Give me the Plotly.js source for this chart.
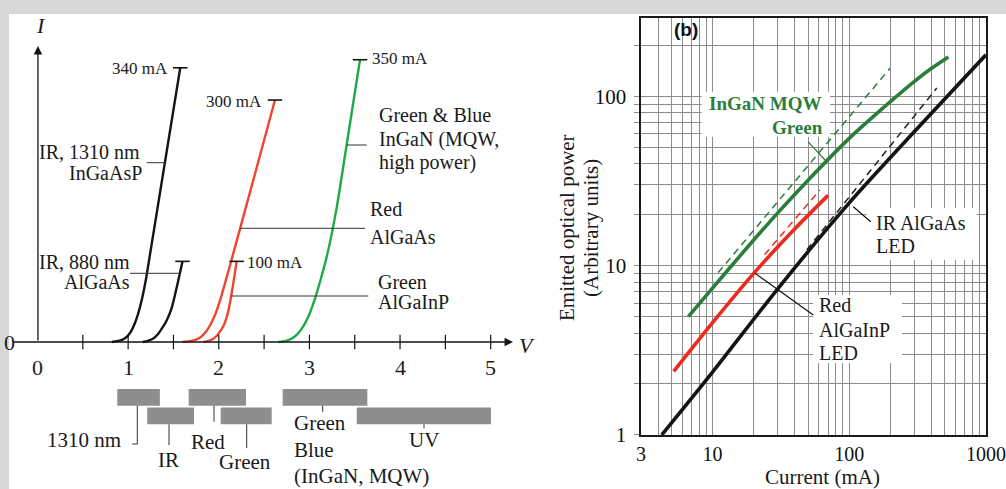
<!DOCTYPE html>
<html><head><meta charset="utf-8">
<script src="https://cdn.plot.ly/plotly-3.0.1.min.js"></script>
<style>html,body{margin:0;padding:0;background:#fff}#chart{width:1006px;height:489px}</style>
</head><body><div id="chart"></div>
<script>
// ================= DATA =================
// Panel (a): I-V characteristics (V in volts, I in mA)
const ir1310_V = [0.82,0.88,0.94,0.99,1.03,1.07,1.11,1.15,1.20,1.575];
const ir1310_I = [0,1,3,7,13,22,35,52,80,340];
const ir880_V  = [1.16,1.22,1.28,1.33,1.38,1.43,1.48,1.60];
const ir880_I  = [0,1.5,4.5,10,18,28,42,100];
const redAlGaAs_V = [1.60,1.68,1.75,1.81,1.86,1.91,1.96,2.01,2.62];
const redAlGaAs_I = [0,1,3,7,13,22,34,50,300];
const grnAlGaInP_V = [1.83,1.89,1.94,1.98,2.02,2.06,2.10,2.14,2.197];
const grnAlGaInP_I = [0,1.5,4,8,14,22,36,59,100];
const inGaN_V = [2.657,2.74,2.81,2.87,2.93,2.99,3.05,3.12,3.20,3.30,3.41,3.558];
const inGaN_I = [0,1.5,4.5,10,19,32,50,76,110,166,244,350];
const topLabels = ['340 mA','100 mA','300 mA','100 mA','350 mA'];
const voltTicks = [0.5,1,1.5,2,2.5,3,3.5,4,4.5,5];
const voltLabels = [0,1,2,3,4,5];
// bandgap ranges under the axis (V)
const bandNames = ['1310 nm','Red','Green Blue (InGaN, MQW)','IR','Green','UV'];
const bandStart = [0.88,1.668,2.705,1.211,2.021,3.522];
const bandEnd   = [1.35,2.30,3.639,1.727,2.584,5.003];
const bandRow   = [1,1,1,2,2,2];

// Panel (b): emitted optical power vs current (mA, arbitrary units)
const irSolid_I = [4.25,10,30,100,300,1000];
const irSolid_P = [1,2.35,7.3,23.5,62,176];
const irDash_I = [48.9,437];
const irDash_P = [12.4,112];
const redSolid_I = [5.2,10,20,40,70];
const redSolid_P = [2.37,4.6,9.0,16.5,26];
const redDash_I = [24,61];
const redDash_P = [11.6,28];
const grnSolid_I = [6.65,10,16,30,50,100,200,300,400,531];
const grnSolid_P = [5.0,7.37,11.5,20.5,32,56.5,93,122.6,146.5,171];
const grnDash_I = [11,199];
const grnDash_P = [9.1,146.6];
const gridX = [3,4,5,6,7,8,9,10,20,30,40,50,60,70,80,90,100,200,300,400,500,600,700,800,900,1000];
const labelX = [3,10,100,1000];
const gridY = [1,2,3,4,5,6,7,8,9,10,20,30,40,50,60,70,80,90,100,200];
const labelY = [1,10,100];

// ================= LAYOUT HELPERS =================
const W = 1006, H = 489;
const X = p => p / W;
const Y = p => 1 - p / H;
const serif = 'Liberation Serif, Times New Roman, serif';
const BLACK = '#141414', REDA = '#ee4530', GRNA = '#1faa4a';
const REDB = '#ec2a1e', GRNB = '#2b7d3a';

function ann(text, px, py, xanchor, size, extra) {
  return Object.assign({text: text, x: X(px), y: Y(py), xref: 'paper', yref: 'paper',
    xanchor: xanchor, yanchor: 'middle', showarrow: false,
    font: {family: serif, size: size, color: '#1a1a1a'}}, extra || {});
}
function seg(x0, y0, x1, y1, color, width) {
  return {type: 'line', xref: 'paper', yref: 'paper', x0: X(x0), y0: Y(y0), x1: X(x1), y1: Y(y1),
    line: {color: color, width: width}, layer: 'above'};
}
function box(x0, y0, x1, y1) {
  return {type: 'rect', xref: 'paper', yref: 'paper', x0: X(x0), y0: Y(y0), x1: X(x1), y1: Y(y1),
    fillcolor: '#ffffff', line: {width: 0}, layer: 'above'};
}

// ================= TRACES =================
const traces = [];
const curvesA = [
  [ir1310_V, ir1310_I, BLACK], [ir880_V, ir880_I, BLACK],
  [redAlGaAs_V, redAlGaAs_I, REDA], [grnAlGaInP_V, grnAlGaInP_I, REDA],
  [inGaN_V, inGaN_I, GRNA]
];
curvesA.forEach(c => traces.push({type: 'scatter', mode: 'lines', x: c[0], y: c[1],
  xaxis: 'x2', yaxis: 'y2', hoverinfo: 'skip', cliponaxis: false,
  line: {color: c[2], width: 2.4, shape: 'spline', smoothing: 0.7}}));
// end-of-curve markers
const capX = [], capY = [];
curvesA.forEach(c => { const v = c[0][c[0].length-1], i = c[1][c[1].length-1];
  capX.push(v - 0.08, v + 0.08, null); capY.push(i, i, null); });
traces.push({type: 'scatter', mode: 'lines', x: capX, y: capY, xaxis: 'x2', yaxis: 'y2',
  hoverinfo: 'skip', line: {color: BLACK, width: 1.6}});
// axis tick marks
const tkX = [], tkY = [];
voltTicks.forEach(v => { tkX.push(v, v, null); tkY.push(-9, 9, null); });
traces.push({type: 'scatter', mode: 'lines', x: tkX, y: tkY, xaxis: 'x2', yaxis: 'y2',
  hoverinfo: 'skip', line: {color: BLACK, width: 1.2}});
// bandgap bars
const rowY = {1: -68.6, 2: -91.5};
traces.push({type: 'bar', orientation: 'h', xaxis: 'x2', yaxis: 'y2',
  base: bandStart, x: bandEnd.map((e, k) => e - bandStart[k]),
  y: bandRow.map(r => rowY[r]), width: 20.7, hoverinfo: 'skip',
  marker: {color: '#8e8e8e', line: {width: 0}}});

// panel (b)
const lineB = (x, y, color, width, dash) => ({type: 'scatter', mode: 'lines', x: x, y: y,
  xaxis: 'x', yaxis: 'y', hoverinfo: 'skip', line: {color: color, width: width, dash: dash || 'solid', shape: 'spline', smoothing: 0.8}});
traces.push(lineB(grnDash_I, grnDash_P, GRNB, 1.5, '7px,5px'));
traces.push(lineB(redDash_I, redDash_P, REDB, 1.5, '7px,5px'));
traces.push(lineB(irDash_I, irDash_P, '#222', 1.5, '7px,5px'));
traces.push(lineB(irSolid_I, irSolid_P, BLACK, 3.6));
traces.push(lineB(redSolid_I, redSolid_P, REDB, 3.6));
traces.push(lineB(grnSolid_I, grnSolid_P, GRNB, 3.6));

// ================= ANNOTATIONS =================
const annotations = [];
// panel (a) axes arrows
annotations.push({x: 5.246, y: 0, ax: -0.2813, ay: 0, xref: 'x2', yref: 'y2', axref: 'x2', ayref: 'y2',
  text: '', showarrow: true, arrowhead: 2, arrowsize: 1.3, arrowwidth: 1.3, arrowcolor: BLACK, standoff: 0});
annotations.push({x: 0.005, y: 367, ax: 0.005, ay: 0, xref: 'x2', yref: 'y2', axref: 'x2', ayref: 'y2',
  text: '', showarrow: true, arrowhead: 2, arrowsize: 1.3, arrowwidth: 1.3, arrowcolor: BLACK, standoff: 0});
voltLabels.forEach(v => annotations.push({x: v, y: -32.2, xref: 'x2', yref: 'y2', text: String(v),
  showarrow: false, xanchor: 'center', yanchor: 'middle', font: {family: serif, size: 22, color: '#222'}}));
annotations.push(ann('0', 9, 342, 'center', 22));
annotations.push(ann('<i>I</i>', 41, 25, 'center', 22));
annotations.push(ann('<i>V</i>', 527, 345, 'center', 22));
// curve end labels
annotations.push(ann(topLabels[0], 170, 68, 'right', 17));
annotations.push(ann(topLabels[2], 264, 101.5, 'right', 17));
annotations.push(ann(topLabels[4], 370, 58, 'left', 17));
annotations.push(ann(topLabels[3], 245, 262, 'left', 17));
// curve names
[['IR, 1310 nm',142,151.7,'right'],['InGaAsP',143.5,173.3,'right'],
 ['Green &amp; Blue',376.7,115,'left'],['InGaN (MQW,',376.7,139.3,'left'],['high power)',376.7,162.3,'left'],
 ['Red',368.3,209,'left'],['AlGaAs',368.3,236.7,'left'],
 ['IR, 880 nm',131.7,261.7,'right'],['AlGaAs',131.7,282.3,'right'],
 ['Green',376,282.3,'left'],['AlGaInP',376,302.3,'left']
].forEach(a => annotations.push(ann(a[0], a[1], a[2], a[3], 20)));
// band labels
[['1310 nm',123,440,'right'],['IR',168,460,'center'],['Red',207.5,441.7,'center'],
 ['Green',244.5,461.7,'center'],['Green',291.7,422.7,'left'],['Blue',291.7,450,'left'],
 ['(InGaN, MQW)',291.7,475.7,'left'],['UV',424,440,'center']
].forEach(a => annotations.push(ann(a[0], a[1], a[2], a[3], 21)));

// panel (b)
annotations.push(ann('<b>(b)</b>', 686, 29, 'center', 19, {font: {family: 'Liberation Sans, Arial, sans-serif', size: 19, color: '#111'}}));
annotations.push(ann('<b>InGaN MQW</b>', 823, 103.3, 'right', 19, {font: {family: serif, size: 19, color: GRNB}}));
annotations.push(ann('<b>Green</b>', 825, 127.3, 'right', 19, {font: {family: serif, size: 19, color: GRNB}}));
annotations.push(ann('IR AlGaAs', 874, 223.3, 'left', 20));
annotations.push(ann('LED', 874, 246, 'left', 20));
annotations.push(ann('Red', 817, 305, 'left', 20));
annotations.push(ann('AlGaInP', 817, 330, 'left', 20));
annotations.push(ann('LED', 817, 353.3, 'left', 20));
annotations.push(ann('Current (mA)', 822.5, 477, 'center', 21));
annotations.push(ann('Emitted optical power', 567, 228, 'center', 21, {textangle: -90}));
annotations.push(ann('(Arbitrary units)', 591, 228, 'center', 21, {textangle: -90}));

// ================= SHAPES =================
const shapes = [
  {type: 'rect', xref: 'paper', yref: 'paper', x0: X(9), y0: 0, x1: 1, y1: Y(14),
   fillcolor: '#ffffff', line: {width: 0}, layer: 'below'},
  // white boxes behind panel (b) labels
  box(701.7, 91.7, 830, 136.7), box(866.7, 208, 976.7, 260), box(813, 295, 902, 363),
  // panel (b) leaders
  seg(808, 141.7, 825, 160, GRNB, 1.2),
  seg(853.3, 206.7, 870.7, 221.7, '#111', 1.2),
  seg(755, 273.3, 813.3, 315, '#111', 1.2),
  // panel (a) leaders
  seg(146.7, 162.7, 165.5, 162.7, '#333', 1),
  seg(130, 273.3, 179.7, 273.3, '#333', 1),
  seg(346.6, 145, 366.7, 145, '#333', 1),
  seg(239.8, 228.3, 365, 228.3, '#333', 1),
  seg(231.2, 296, 368.3, 296, '#333', 1),
  // band leaders
  seg(137.3, 405.7, 137.3, 444, '#333', 1), seg(137.3, 444, 132.2, 444, '#333', 1),
  seg(169, 424.3, 169, 445, '#333', 1),
  seg(214, 405.7, 214, 421.7, '#333', 1),
  seg(246.7, 424.3, 246.7, 448, '#333', 1),
  seg(322.7, 405.7, 322.7, 412, '#333', 1),
  seg(424, 424.3, 424, 428.3, '#333', 1)
];

const layout = {
  width: W, height: H, margin: {l: 0, r: 0, t: 0, b: 0},
  paper_bgcolor: '#d8d8d8', plot_bgcolor: 'rgba(0,0,0,0)',
  showlegend: false, barmode: 'overlay',
  xaxis: {type: 'log', domain: [X(641), X(986)], range: [Math.log10(3) - 0.0005, 3.0005], anchor: 'y',
    tickmode: 'array', tickvals: gridX, ticktext: gridX.map(v => labelX.includes(v) ? String(v) : ''),
    showgrid: true, gridcolor: '#8c8c8c', gridwidth: 1, zeroline: false,
    showline: true, mirror: true, linecolor: '#1a1a1a', linewidth: 1.6,
    ticks: '', ticklabelstandoff: 0, ticklabeloverflow: 'allow',
    tickfont: {family: serif, size: 20, color: '#111'}},
  yaxis: {type: 'log', domain: [Y(435), Y(18)], range: [-0.0005, 2.463], anchor: 'x',
    tickmode: 'array', tickvals: gridY, ticktext: gridY.map(v => labelY.includes(v) ? String(v) : ''),
    showgrid: true, gridcolor: '#8c8c8c', gridwidth: 1, zeroline: false,
    showline: true, mirror: true, linecolor: '#1a1a1a', linewidth: 1.6,
    ticks: 'outside', ticklen: 5, tickcolor: '#8c8c8c', ticklabelstandoff: 4, ticklabeloverflow: 'allow',
    tickfont: {family: serif, size: 21, color: '#111'}},
  xaxis2: {domain: [0, X(520)], range: [-37.5/90.64, (520-37.5)/90.64], anchor: 'y2', visible: false, fixedrange: true},
  yaxis2: {domain: [0, 1], range: [-147*1.24, 342*1.24], anchor: 'x2', visible: false, fixedrange: true},
  annotations: annotations, shapes: shapes
};

Plotly.newPlot('chart', traces, layout, {staticPlot: true, displayModeBar: false});
</script>
</body></html>
